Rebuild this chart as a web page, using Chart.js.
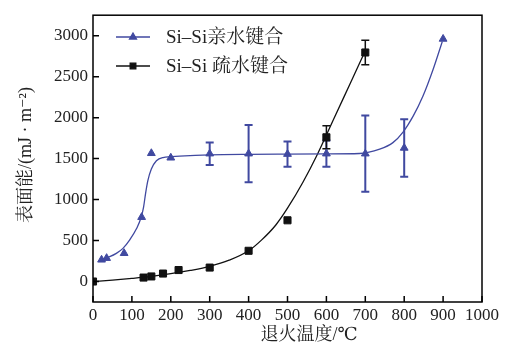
<!DOCTYPE html>
<html>
<head>
<meta charset="utf-8">
<script src="https://cdn.jsdelivr.net/npm/chart.js@4.4.1/dist/chart.umd.min.js"></script>
<style>
  body { margin: 0; background: #fff; }
  #wrap { width: 520px; height: 351px; position: relative; }
</style>
</head>
<body>
<div id="wrap"><canvas id="myChart"></canvas></div>
<script>
// données
var seriesNames = ["Si–Si亲水键合", "Si–Si 疏水键合"];
var xTitle = "退火温度/℃";
var yTitle = "表面能/(mJ · m⁻²)";
var xTicks = [0, 100, 200, 300, 400, 500, 600, 700, 800, 900, 1000];
var yTicks = [0, 500, 1000, 1500, 2000, 2500, 3000];

// Si-Si hydrophile (triangles)
var philicX = [22, 35, 80, 125, 150, 200, 300, 400, 500, 600, 700, 800, 900];
var philicY = [265, 285, 345, 785, 1565, 1510, 1560, 1560, 1555, 1560, 1560, 1630, 2960];
var philicErr = [0, 0, 0, 0, 0, 0, 137, 350, 155, 160, 465, 350, 0];
// courbe ajustée (hydrophile)
var philicFitX = [22, 30, 43, 60, 77, 94, 112, 124, 130, 135, 141, 150, 163, 180, 223, 300, 400, 500, 600, 685, 737, 771, 797, 823, 848, 874, 898];
var philicFitY = [278, 283, 303, 343, 404, 505, 646, 787, 908, 1070, 1231, 1373, 1473, 1513, 1530, 1545, 1552, 1555, 1557, 1562, 1615, 1695, 1824, 2018, 2260, 2584, 2930];

// Si-Si hydrophobe (carrés)
var phobicX = [0, 130, 150, 180, 220, 300, 400, 500, 600, 700];
var phobicY = [0, 48, 62, 97, 140, 170, 375, 747, 1760, 2795];
var phobicErr = [0, 0, 0, 0, 0, 0, 0, 0, 140, 150];
// courbe ajustée (hydrophobe)
var phobicFitX = [0, 50, 100, 150, 200, 250, 300, 350, 400, 433, 470, 500, 540, 577, 620, 660, 700];
var phobicFitY = [0, 18, 38, 62, 95, 135, 185, 260, 375, 505, 690, 895, 1215, 1554, 1995, 2405, 2815];

var blue = "#4049a0";
var black = "#111111";
var serif = "Liberation Serif, Times New Roman, DejaVu Serif, Noto Serif CJK SC, Noto Sans CJK SC, serif";

function pts(xs, ys) {
  return xs.map((x, i) => ({ x: x, y: ys[i] }));
}

// barres d'erreur + cadre + ticks vers l'intérieur + titres + légende
var extras = {
  id: "extras",
  beforeDatasetsDraw(chart) {
    let ctx = chart.ctx;
    let xs = chart.scales.x, ys = chart.scales.y;
    [[philicX, philicY, philicErr, blue, 2], [phobicX, phobicY, phobicErr, black, 1.5]].forEach(function (s) {
      ctx.save();
      ctx.strokeStyle = s[3];
      ctx.lineWidth = s[4];
      s[0].forEach(function (x, i) {
        if (!s[2][i]) return;
        let px = xs.getPixelForValue(x);
        let y1 = ys.getPixelForValue(s[1][i] + s[2][i]);
        let y2 = ys.getPixelForValue(s[1][i] - s[2][i]);
        ctx.beginPath();
        ctx.moveTo(px, y1); ctx.lineTo(px, y2);
        ctx.moveTo(px - 4, y1); ctx.lineTo(px + 4, y1);
        ctx.moveTo(px - 4, y2); ctx.lineTo(px + 4, y2);
        ctx.stroke();
      });
      ctx.restore();
    });
  },
  afterDraw(chart) {
    let ctx = chart.ctx;
    let a = chart.chartArea;
    let xs = chart.scales.x, ys = chart.scales.y;
    ctx.save();
    ctx.strokeStyle = "#000";
    ctx.lineWidth = 1.5;
    ctx.strokeRect(a.left, a.top, a.right - a.left, a.bottom - a.top);
    ctx.beginPath();
    xTicks.forEach(function (v) {
      let px = xs.getPixelForValue(v);
      ctx.moveTo(px, a.bottom); ctx.lineTo(px, a.bottom - 6);
    });
    yTicks.forEach(function (v) {
      let py = ys.getPixelForValue(v);
      ctx.moveTo(a.left, py); ctx.lineTo(a.left + 6, py);
    });
    ctx.stroke();

    // titres des axes
    ctx.fillStyle = "#222";
    ctx.font = "18px " + serif;
    ctx.textAlign = "center";
    ctx.textBaseline = "middle";
    ctx.fillText(xTitle, 309, 335);
    ctx.save();
    ctx.translate(26, 155);
    ctx.rotate(-Math.PI / 2);
    ctx.fillText(yTitle, 0, 0);
    ctx.restore();

    // légende
    let items = [[seriesNames[0], blue, "triangle", 37], [seriesNames[1], black, "rect", 66]];
    ctx.font = "19px " + serif;
    ctx.textAlign = "left";
    items.forEach(function (it) {
      ctx.strokeStyle = it[1];
      ctx.fillStyle = it[1];
      ctx.lineWidth = 1.3;
      ctx.beginPath();
      ctx.moveTo(116, it[3]); ctx.lineTo(150, it[3]);
      ctx.stroke();
      Chart.helpers.drawPoint(ctx, { pointStyle: it[2], radius: 4, borderWidth: 1 }, 133, it[3]);
      ctx.fillStyle = "#222";
      ctx.fillText(it[0], 166, it[3] + 1);
    });
    ctx.restore();
  },
};

var ctx = document.getElementById("myChart").getContext("2d");
var chartInstance = new Chart(ctx, {
  type: "scatter",
  data: {
    datasets: [
      {
        data: pts(philicFitX, philicFitY),
        showLine: true,
        borderColor: blue,
        borderWidth: 1.3,
        pointRadius: 0,
        cubicInterpolationMode: "monotone",
      },
      {
        data: pts(phobicFitX, phobicFitY),
        showLine: true,
        borderColor: black,
        borderWidth: 1.3,
        pointRadius: 0,
        cubicInterpolationMode: "monotone",
      },
      {
        data: pts(philicX, philicY),
        pointStyle: "triangle",
        pointRadius: 4.5,
        backgroundColor: blue,
        borderColor: blue,
        borderWidth: 1,
      },
      {
        data: pts(phobicX, phobicY),
        pointStyle: "rect",
        pointRadius: 5,
        backgroundColor: black,
        borderColor: black,
        borderWidth: 1,
      },
    ],
  },
  options: {
    responsive: true,
    maintainAspectRatio: false,
    animation: false,
    layout: { padding: { top: 14, right: 38, left: 0, bottom: 0 } },
    plugins: { legend: { display: false }, tooltip: { enabled: false } },
    scales: {
      x: {
        type: "linear",
        min: 0,
        max: 1000,
        grid: { display: false, drawTicks: false },
        border: { display: false },
        afterBuildTicks: (s) => { s.ticks = xTicks.map((v) => ({ value: v })); },
        afterFit: (s) => { s.height = 49; },
        ticks: {
          padding: 3, color: "#222", maxRotation: 0, autoSkip: false,
          font: { family: serif, size: 17 },
          callback: (v) => String(v),
        },
      },
      y: {
        type: "linear",
        min: -250,
        max: 3250,
        grid: { display: false, drawTicks: false },
        border: { display: false },
        afterBuildTicks: (s) => { s.ticks = yTicks.map((v) => ({ value: v })); },
        afterFit: (s) => { s.width = 93; },
        ticks: {
          padding: 5, color: "#222",
          font: { family: serif, size: 17 },
          callback: (v) => String(v),
        },
      },
    },
  },
  plugins: [extras],
});
</script>
</body>
</html>
